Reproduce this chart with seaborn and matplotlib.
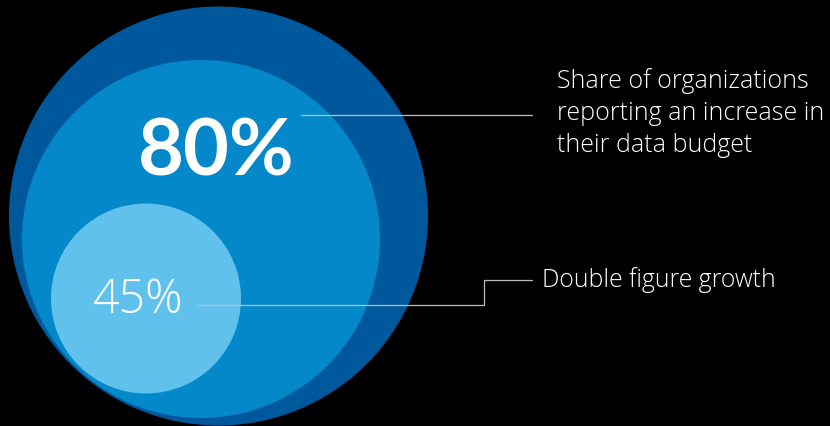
import matplotlib
matplotlib.use("Agg")
import matplotlib.pyplot as plt
from matplotlib.patches import Circle
import pandas as pd
import seaborn as sns

# Survey shares shown in the nested bubbles
shares = [80, 45]
share_labels = [f"{v}%" for v in shares]
budget_lines = [
    "Share of organizations",
    "reporting an increase in",
    "their data budget",
]
growth_label = "Double figure growth"

sns.set_theme(style="dark", rc={
    "axes.facecolor": "black",
    "figure.facecolor": "black",
})

fig = plt.figure(figsize=(8.30, 4.27), dpi=100)
ax = fig.add_axes([0, 0, 1, 1])

# Nested bubbles: outer frame, budget increase, double figure growth
bubbles = [
    ((218.5, 217.0), 209.5, "#00589C"),
    ((201.0, 240.0), 179.0, "#0588C9"),
    ((146.0, 299.5), 95.0, "#60C1EC"),
]
for center, radius, color in bubbles:
    ax.add_patch(Circle(center, radius, facecolor=color, edgecolor="none", zorder=1))

# Leader lines from the bubble labels to the descriptions
leaders = pd.DataFrame({
    "x": [301, 532, 197, 483.5, 483.5, 532],
    "y": [115.5, 115.5, 306, 306, 281, 281],
    "line": ["a", "a", "b", "b", "b", "b"],
})
sns.lineplot(data=leaders, x="x", y="y", units="line", estimator=None, sort=False,
             color="#BDBDBD", linewidth=0.9, ax=ax, zorder=2, legend=False)
ax.set_xlim(0, 830)
ax.set_ylim(427, 0)
ax.set_aspect("equal")
ax.axis("off")

ax.text(216, 176, share_labels[0], color="white", fontsize=57, fontweight="bold",
        family="Lato", ha="center", va="baseline", zorder=3)
ax.text(137.5, 313, share_labels[1], color="white", fontsize=33.5, fontweight="light",
        family="Open Sans", ha="center", va="baseline", zorder=3)

for i, line in enumerate(budget_lines):
    ax.text(557, 88.5 + i * 31.7, line, color="white", fontsize=18,
            fontweight="light", family="Open Sans", ha="left", va="baseline", zorder=3)
ax.text(541.5, 287, growth_label, color="white", fontsize=17.8,
        fontweight="light", family="Open Sans", ha="left", va="baseline", zorder=3)

fig.savefig("out.png", dpi=100, facecolor="black")
